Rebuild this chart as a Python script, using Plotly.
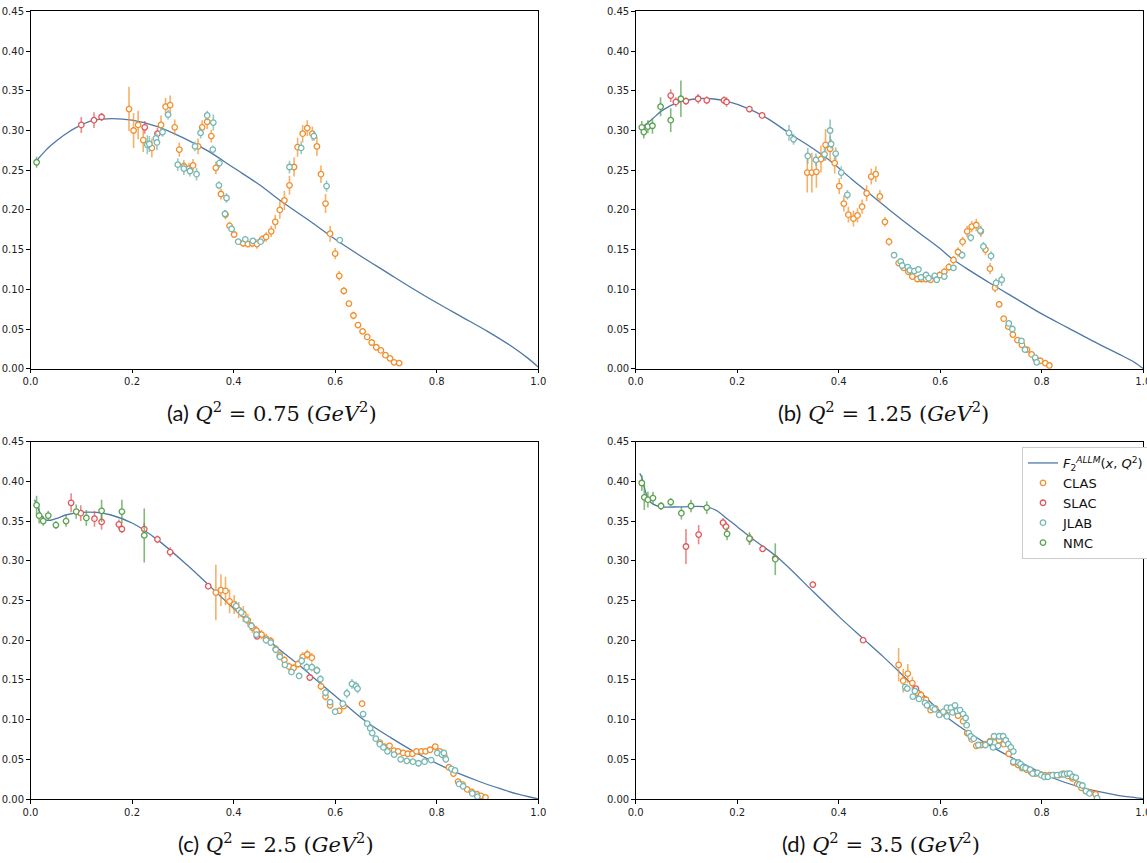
import plotly.graph_objects as go

# ---------------- ALLM model curves F2(x, Q^2) ----------------
A_CURVE_X = [0.01, 0.02, 0.03, 0.04, 0.055, 0.07, 0.10, 0.125, 0.16, 0.20, 0.25, 0.30, 0.35, 0.40, 0.45, 0.50,
             0.55, 0.60, 0.65, 0.70, 0.75, 0.80, 0.85, 0.90, 0.95, 0.98, 1.0]
A_CURVE_Y = [0.260, 0.268, 0.275, 0.281, 0.289, 0.296, 0.307, 0.313, 0.315, 0.313, 0.305, 0.291, 0.274, 0.253,
             0.232, 0.208, 0.186, 0.163, 0.142, 0.122, 0.102, 0.083, 0.065, 0.047, 0.027, 0.013, 0.002]

B_CURVE_X = [0.01, 0.03, 0.054, 0.087, 0.12, 0.15, 0.179, 0.224, 0.26, 0.304, 0.35, 0.383, 0.425, 0.45, 0.50,
             0.55, 0.60, 0.622, 0.65, 0.70, 0.75, 0.80, 0.85, 0.90, 0.95, 0.98, 1.0]
B_CURVE_Y = [0.303, 0.313, 0.326, 0.336, 0.340, 0.340, 0.337, 0.327, 0.315, 0.296, 0.277, 0.262, 0.239, 0.226,
             0.200, 0.175, 0.151, 0.139, 0.127, 0.107, 0.088, 0.069, 0.052, 0.035, 0.019, 0.009, 0.0]

C_CURVE_X = [0.008, 0.015, 0.022, 0.032, 0.05, 0.071, 0.10, 0.13, 0.157, 0.202, 0.249, 0.308, 0.35, 0.40, 0.45,
             0.485, 0.53, 0.57, 0.62, 0.662, 0.71, 0.76, 0.826, 0.88, 0.925, 0.96, 1.0]
C_CURVE_Y = [0.377, 0.366, 0.357, 0.351, 0.353, 0.358, 0.361, 0.361, 0.358, 0.347, 0.327, 0.295, 0.270, 0.240,
             0.212, 0.191, 0.168, 0.146, 0.119, 0.097, 0.077, 0.058, 0.037, 0.023, 0.013, 0.006, 0.0]

D_CURVE_X = [0.008, 0.012, 0.018, 0.025, 0.035, 0.05, 0.088, 0.14, 0.16, 0.18, 0.20, 0.225, 0.278, 0.35, 0.40,
             0.448, 0.488, 0.552, 0.619, 0.685, 0.75, 0.816, 0.881, 0.947, 0.993, 1.0]
D_CURVE_Y = [0.410, 0.405, 0.390, 0.377, 0.371, 0.368, 0.368, 0.368, 0.363, 0.353, 0.343, 0.330, 0.305, 0.261,
             0.230, 0.202, 0.179, 0.140, 0.100, 0.072, 0.049, 0.028, 0.014, 0.005, 0.001, 0.0]

# ---------------- Panel (a): Q^2 = 0.75 GeV^2 ----------------
A_CLAS_X = [0.194, 0.203, 0.212, 0.222, 0.239, 0.257, 0.266, 0.275, 0.284, 0.293, 0.302, 0.312, 0.320, 0.330,
            0.338, 0.348, 0.356, 0.365, 0.375, 0.384, 0.392, 0.401, 0.419, 0.428, 0.437, 0.446, 0.456, 0.464,
            0.474, 0.482, 0.491, 0.500, 0.510, 0.519, 0.526, 0.536, 0.545, 0.555, 0.564, 0.572, 0.581, 0.590,
            0.600, 0.608, 0.617, 0.627, 0.636, 0.645, 0.654, 0.663, 0.672, 0.681, 0.690, 0.699, 0.708, 0.716,
            0.726]
A_CLAS_Y = [0.327, 0.300, 0.307, 0.288, 0.278, 0.307, 0.330, 0.332, 0.304, 0.276, 0.255, 0.252, 0.256, 0.280,
            0.304, 0.311, 0.293, 0.253, 0.220, 0.194, 0.180, 0.169, 0.158, 0.157, 0.158, 0.157, 0.163, 0.166,
            0.173, 0.185, 0.200, 0.212, 0.231, 0.254, 0.279, 0.296, 0.303, 0.296, 0.280, 0.245, 0.208, 0.170,
            0.145, 0.117, 0.098, 0.082, 0.067, 0.055, 0.047, 0.040, 0.033, 0.027, 0.023, 0.017, 0.013, 0.008,
            0.007]
A_CLAS_E = [0.028, 0.022, 0.018, 0.015, 0.012, 0.012, 0.011, 0.012, 0.010, 0.009, 0.008, 0.007, 0.008, 0.010,
            0.009, 0.009, 0.008, 0.008, 0.007, 0.006, 0.005, 0.004, 0.004, 0.004, 0.005, 0.006, 0.005, 0.006,
            0.007, 0.009, 0.011, 0.012, 0.012, 0.012, 0.012, 0.011, 0.010, 0.009, 0.012, 0.011, 0.012, 0.010,
            0.007, 0.006, 0.005, 0.003, 0.005, 0.002, 0.002, 0.002, 0.002, 0.002, 0.002, 0.002, 0.002, 0.002,
            0.002]
A_SLAC_X = [0.10, 0.125, 0.14, 0.225, 0.25]
A_SLAC_Y = [0.307, 0.313, 0.317, 0.304, 0.296]
A_SLAC_E = [0.010, 0.010, 0.005, 0.008, 0.007]
A_JLAB_X = [0.230, 0.234, 0.247, 0.249, 0.260, 0.271, 0.290, 0.302, 0.314, 0.324, 0.327, 0.335, 0.348, 0.359,
            0.360, 0.371, 0.372, 0.383, 0.386, 0.396, 0.409, 0.423, 0.438, 0.453, 0.510, 0.533, 0.558, 0.583,
            0.609]
A_JLAB_Y = [0.282, 0.283, 0.290, 0.285, 0.298, 0.320, 0.257, 0.252, 0.249, 0.280, 0.245, 0.297, 0.319, 0.276,
            0.310, 0.231, 0.259, 0.195, 0.215, 0.176, 0.160, 0.163, 0.161, 0.160, 0.254, 0.278, 0.293, 0.230,
            0.162]
A_JLAB_E = [0.012, 0.010, 0.008, 0.010, 0.006, 0.006, 0.008, 0.008, 0.007, 0.006, 0.008, 0.007, 0.006, 0.005,
            0.010, 0.005, 0.006, 0.005, 0.006, 0.004, 0.003, 0.003, 0.003, 0.003, 0.008, 0.008, 0.006, 0.007,
            0.004]
A_NMC_X = [0.012]
A_NMC_Y = [0.260]
A_NMC_E = [0.007]

# ---------------- Panel (b): Q^2 = 1.25 GeV^2 ----------------
B_CLAS_X = [0.338, 0.347, 0.356, 0.365, 0.374, 0.383, 0.392, 0.401, 0.410, 0.419, 0.429, 0.437, 0.446, 0.455,
            0.464, 0.473, 0.481, 0.491, 0.499, 0.518, 0.528, 0.537, 0.545, 0.555, 0.563, 0.572, 0.581, 0.590,
            0.599, 0.608, 0.617, 0.626, 0.635, 0.644, 0.653, 0.662, 0.671, 0.680, 0.689, 0.698, 0.708, 0.716,
            0.725, 0.734, 0.743, 0.752, 0.761, 0.771, 0.780, 0.788, 0.797, 0.807, 0.815]
B_CLAS_Y = [0.247, 0.247, 0.248, 0.264, 0.282, 0.277, 0.259, 0.230, 0.208, 0.194, 0.189, 0.193, 0.204, 0.221,
            0.242, 0.245, 0.217, 0.185, 0.160, 0.133, 0.127, 0.122, 0.116, 0.113, 0.113, 0.113, 0.112, 0.116,
            0.118, 0.122, 0.128, 0.137, 0.147, 0.160, 0.173, 0.179, 0.181, 0.173, 0.150, 0.126, 0.102, 0.081,
            0.063, 0.053, 0.043, 0.036, 0.030, 0.024, 0.018, 0.012, 0.010, 0.007, 0.004]
B_CLAS_E = [0.025, 0.025, 0.020, 0.017, 0.020, 0.016, 0.013, 0.010, 0.010, 0.010, 0.010, 0.009, 0.009, 0.010,
            0.010, 0.010, 0.008, 0.006, 0.005, 0.004, 0.004, 0.004, 0.004, 0.004, 0.004, 0.004, 0.004, 0.004,
            0.004, 0.005, 0.005, 0.005, 0.006, 0.006, 0.007, 0.007, 0.008, 0.007, 0.007, 0.007, 0.006, 0.004,
            0.003, 0.003, 0.002, 0.002, 0.002, 0.002, 0.002, 0.002, 0.002, 0.002, 0.002]
B_SLAC_X = [0.069, 0.079, 0.099, 0.123, 0.140, 0.174, 0.179, 0.224, 0.249]
B_SLAC_Y = [0.344, 0.336, 0.337, 0.340, 0.338, 0.338, 0.336, 0.327, 0.319]
B_SLAC_E = [0.008, 0.006, 0.005, 0.006, 0.005, 0.005, 0.006, 0.004, 0.004]
B_JLAB_X = [0.302, 0.311, 0.339, 0.355, 0.372, 0.383, 0.385, 0.394, 0.405, 0.417, 0.509, 0.522, 0.525, 0.536,
            0.540, 0.549, 0.557, 0.562, 0.572, 0.577, 0.589, 0.593, 0.608, 0.626, 0.643, 0.660, 0.679, 0.685,
            0.700, 0.710, 0.721, 0.735, 0.742, 0.760, 0.767, 0.787, 0.790]
B_JLAB_Y = [0.297, 0.289, 0.268, 0.263, 0.270, 0.300, 0.283, 0.271, 0.247, 0.219, 0.143, 0.135, 0.130, 0.128,
            0.124, 0.123, 0.125, 0.115, 0.118, 0.114, 0.117, 0.112, 0.116, 0.127, 0.143, 0.165, 0.174, 0.154,
            0.142, 0.108, 0.112, 0.057, 0.050, 0.035, 0.024, 0.014, 0.008]
B_JLAB_E = [0.010, 0.007, 0.010, 0.008, 0.008, 0.014, 0.006, 0.008, 0.008, 0.006, 0.004, 0.004, 0.004, 0.004,
            0.004, 0.004, 0.004, 0.004, 0.004, 0.004, 0.004, 0.004, 0.004, 0.004, 0.005, 0.005, 0.006, 0.006,
            0.006, 0.006, 0.008, 0.003, 0.003, 0.003, 0.003, 0.003, 0.003]
B_NMC_X = [0.012, 0.016, 0.024, 0.033, 0.049, 0.069, 0.089]
B_NMC_Y = [0.304, 0.298, 0.305, 0.306, 0.330, 0.313, 0.340]
B_NMC_E = [0.008, 0.008, 0.008, 0.010, 0.012, 0.015, 0.023]

# ---------------- Panel (c): Q^2 = 2.5 GeV^2 ----------------
C_CLAS_X = [0.365, 0.375, 0.384, 0.392, 0.401, 0.410, 0.419, 0.428, 0.437, 0.445, 0.455, 0.464, 0.473, 0.483,
            0.491, 0.500, 0.509, 0.518, 0.527, 0.536, 0.545, 0.554, 0.564, 0.572, 0.581, 0.590, 0.608, 0.617,
            0.653, 0.688, 0.697, 0.707, 0.716, 0.724, 0.734, 0.743, 0.752, 0.760, 0.770, 0.778, 0.787, 0.797,
            0.806, 0.815, 0.824, 0.833, 0.842, 0.851, 0.860, 0.869, 0.879, 0.887, 0.896]
C_CLAS_Y = [0.260, 0.263, 0.262, 0.249, 0.245, 0.238, 0.233, 0.225, 0.216, 0.212, 0.207, 0.202, 0.199, 0.189,
            0.181, 0.175, 0.167, 0.165, 0.170, 0.179, 0.182, 0.178, 0.162, 0.142, 0.129, 0.118, 0.111, 0.117,
            0.120, 0.071, 0.066, 0.067, 0.061, 0.060, 0.058, 0.057, 0.057, 0.060, 0.060, 0.060, 0.062, 0.066,
            0.060, 0.054, 0.040, 0.032, 0.022, 0.018, 0.012, 0.009, 0.006, 0.004, 0.002]
C_CLAS_E = [0.035, 0.020, 0.018, 0.015, 0.012, 0.010, 0.010, 0.008, 0.007, 0.006, 0.006, 0.006, 0.005, 0.005,
            0.005, 0.005, 0.005, 0.005, 0.005, 0.006, 0.006, 0.006, 0.005, 0.005, 0.005, 0.004, 0.004, 0.004,
            0.004, 0.003, 0.003, 0.003, 0.003, 0.003, 0.003, 0.003, 0.003, 0.003, 0.003, 0.003, 0.003, 0.003,
            0.003, 0.003, 0.003, 0.003, 0.003, 0.002, 0.002, 0.002, 0.002, 0.002, 0.002]
C_SLAC_X = [0.080, 0.099, 0.126, 0.140, 0.174, 0.180, 0.224, 0.250, 0.275, 0.350, 0.446, 0.550]
C_SLAC_Y = [0.373, 0.360, 0.353, 0.349, 0.346, 0.340, 0.340, 0.327, 0.311, 0.268, 0.205, 0.153]
C_SLAC_E = [0.012, 0.010, 0.010, 0.010, 0.006, 0.005, 0.008, 0.005, 0.006, 0.004, 0.003, 0.002]
C_JLAB_X = [0.405, 0.415, 0.425, 0.435, 0.445, 0.464, 0.473, 0.483, 0.491, 0.501, 0.514, 0.529, 0.534, 0.544,
            0.554, 0.564, 0.571, 0.581, 0.590, 0.600, 0.615, 0.623, 0.633, 0.641, 0.644, 0.655, 0.663, 0.669,
            0.673, 0.680, 0.688, 0.695, 0.703, 0.716, 0.729, 0.741, 0.753, 0.764, 0.776, 0.789, 0.801, 0.810,
            0.814, 0.818, 0.829, 0.836, 0.844, 0.852, 0.870, 0.880]
C_JLAB_Y = [0.243, 0.235, 0.226, 0.218, 0.207, 0.200, 0.197, 0.188, 0.179, 0.169, 0.160, 0.155, 0.174, 0.166,
            0.166, 0.162, 0.151, 0.134, 0.122, 0.110, 0.120, 0.133, 0.145, 0.142, 0.139, 0.107, 0.095, 0.089,
            0.083, 0.076, 0.069, 0.065, 0.060, 0.056, 0.050, 0.048, 0.047, 0.045, 0.047, 0.049, 0.058, 0.056,
            0.058, 0.050, 0.038, 0.036, 0.019, 0.016, 0.007, 0.003]
C_JLAB_E = [0.006, 0.006, 0.005, 0.005, 0.004, 0.004, 0.004, 0.004, 0.004, 0.004, 0.004, 0.004, 0.005, 0.005,
            0.005, 0.005, 0.005, 0.005, 0.004, 0.004, 0.004, 0.006, 0.006, 0.006, 0.006, 0.004, 0.003, 0.003,
            0.003, 0.003, 0.003, 0.003, 0.003, 0.002, 0.002, 0.002, 0.002, 0.002, 0.002, 0.002, 0.004, 0.004,
            0.004, 0.004, 0.003, 0.003, 0.002, 0.002, 0.002, 0.002]
C_NMC_X = [0.012, 0.017, 0.025, 0.035, 0.050, 0.070, 0.090, 0.110, 0.140, 0.180, 0.224]
C_NMC_Y = [0.370, 0.357, 0.350, 0.357, 0.345, 0.350, 0.362, 0.354, 0.363, 0.362, 0.332]
C_NMC_E = [0.012, 0.010, 0.006, 0.006, 0.005, 0.007, 0.009, 0.010, 0.014, 0.015, 0.034]

# ---------------- Panel (d): Q^2 = 3.5 GeV^2 ----------------
D_CLAS_X = [0.518, 0.527, 0.536, 0.545, 0.554, 0.562, 0.572, 0.581, 0.590, 0.599, 0.608, 0.617, 0.626, 0.635,
            0.645, 0.653, 0.662, 0.671, 0.680, 0.689, 0.698, 0.707, 0.716, 0.725, 0.735, 0.744, 0.753, 0.761,
            0.770, 0.779, 0.788, 0.798, 0.806, 0.815, 0.824, 0.834, 0.842, 0.851, 0.860, 0.870, 0.878, 0.887,
            0.896, 0.906]
D_CLAS_Y = [0.169, 0.149, 0.158, 0.146, 0.134, 0.131, 0.125, 0.112, 0.114, 0.107, 0.108, 0.112, 0.111, 0.105,
            0.098, 0.083, 0.075, 0.067, 0.068, 0.069, 0.073, 0.078, 0.074, 0.069, 0.057, 0.046, 0.043, 0.039,
            0.037, 0.034, 0.032, 0.031, 0.030, 0.030, 0.030, 0.030, 0.032, 0.029, 0.026, 0.019, 0.014, 0.010,
            0.008, 0.006]
D_CLAS_E = [0.021, 0.015, 0.012, 0.008, 0.006, 0.005, 0.005, 0.004, 0.004, 0.004, 0.004, 0.004, 0.004, 0.004,
            0.004, 0.003, 0.003, 0.003, 0.003, 0.003, 0.003, 0.003, 0.003, 0.003, 0.003, 0.002, 0.002, 0.002,
            0.002, 0.002, 0.002, 0.002, 0.002, 0.002, 0.002, 0.002, 0.002, 0.002, 0.002, 0.002, 0.002, 0.002,
            0.002, 0.002]
D_SLAC_X = [0.099, 0.124, 0.172, 0.178, 0.225, 0.250, 0.275, 0.349, 0.448, 0.552]
D_SLAC_Y = [0.318, 0.333, 0.348, 0.343, 0.328, 0.315, 0.303, 0.270, 0.200, 0.139]
D_SLAC_E = [0.022, 0.012, 0.006, 0.006, 0.006, 0.004, 0.004, 0.004, 0.002, 0.002]
D_JLAB_X = [0.531, 0.535, 0.546, 0.550, 0.558, 0.570, 0.574, 0.585, 0.589, 0.598, 0.606, 0.613, 0.613, 0.621,
            0.624, 0.629, 0.633, 0.639, 0.645, 0.650, 0.652, 0.656, 0.660, 0.666, 0.675, 0.689, 0.698, 0.704,
            0.706, 0.714, 0.716, 0.724, 0.729, 0.734, 0.739, 0.744, 0.744, 0.754, 0.758, 0.763, 0.768, 0.777,
            0.782, 0.792, 0.799, 0.805, 0.812, 0.821, 0.830, 0.839, 0.844, 0.850, 0.855, 0.861, 0.867, 0.874,
            0.880, 0.887, 0.894, 0.909]
D_JLAB_Y = [0.141, 0.139, 0.129, 0.136, 0.126, 0.121, 0.118, 0.115, 0.113, 0.106, 0.110, 0.115, 0.104, 0.115,
            0.109, 0.118, 0.111, 0.112, 0.107, 0.102, 0.093, 0.083, 0.079, 0.076, 0.068, 0.068, 0.072, 0.065,
            0.079, 0.067, 0.079, 0.079, 0.074, 0.069, 0.065, 0.060, 0.047, 0.046, 0.044, 0.040, 0.039, 0.037,
            0.032, 0.033, 0.030, 0.028, 0.028, 0.030, 0.030, 0.031, 0.031, 0.032, 0.032, 0.028, 0.027, 0.018,
            0.017, 0.010, 0.007, 0.001]
D_JLAB_E = [0.003] * len(D_JLAB_X)
D_NMC_X = [0.012, 0.017, 0.024, 0.034, 0.050, 0.069, 0.090, 0.109, 0.140, 0.180, 0.224, 0.275]
D_NMC_Y = [0.398, 0.380, 0.377, 0.379, 0.369, 0.374, 0.360, 0.369, 0.367, 0.334, 0.328, 0.302]
D_NMC_E = [0.010, 0.016, 0.010, 0.008, 0.005, 0.005, 0.008, 0.008, 0.008, 0.008, 0.008, 0.020]

PANEL_CAPTIONS = ["(a)", "(b)", "(c)", "(d)"]
PANEL_Q2 = ["0.75", "1.25", "2.5", "3.5"]
X_TICKS = [0.0, 0.2, 0.4, 0.6, 0.8, 1.0]
Y_TICKS = [0.0, 0.05, 0.10, 0.15, 0.20, 0.25, 0.30, 0.35, 0.40, 0.45]

# ---------------- styling ----------------
W, H = 1147, 863
CURVE_COLOR = "#4e79a7"
SERIES = {
    "CLAS": ("#f28e2b", "rgba(242,142,43,0.7)"),
    "SLAC": ("#e15759", "rgba(225,87,89,0.7)"),
    "JLAB": ("#76b7b2", "rgba(118,183,178,0.75)"),
    "NMC": ("#59a14f", "rgba(89,161,79,0.75)"),
}

# plot-area boxes in pixels: (left, right, top, bottom)
BOXES = [(30.5, 538.3, 11.4, 368.7), (635.7, 1143.3, 11.4, 368.7),
         (30.5, 538.3, 441.7, 799.0), (635.7, 1143.3, 441.7, 799.0)]
CAPTION_POS = [(272, 412), (883, 412), (276, 843), (881, 843)]

panels = [
    (A_CURVE_X, A_CURVE_Y, [(A_CLAS_X, A_CLAS_Y, A_CLAS_E), (A_SLAC_X, A_SLAC_Y, A_SLAC_E),
                            (A_JLAB_X, A_JLAB_Y, A_JLAB_E), (A_NMC_X, A_NMC_Y, A_NMC_E)]),
    (B_CURVE_X, B_CURVE_Y, [(B_CLAS_X, B_CLAS_Y, B_CLAS_E), (B_SLAC_X, B_SLAC_Y, B_SLAC_E),
                            (B_JLAB_X, B_JLAB_Y, B_JLAB_E), (B_NMC_X, B_NMC_Y, B_NMC_E)]),
    (C_CURVE_X, C_CURVE_Y, [(C_CLAS_X, C_CLAS_Y, C_CLAS_E), (C_SLAC_X, C_SLAC_Y, C_SLAC_E),
                            (C_JLAB_X, C_JLAB_Y, C_JLAB_E), (C_NMC_X, C_NMC_Y, C_NMC_E)]),
    (D_CURVE_X, D_CURVE_Y, [(D_CLAS_X, D_CLAS_Y, D_CLAS_E), (D_SLAC_X, D_SLAC_Y, D_SLAC_E),
                            (D_JLAB_X, D_JLAB_Y, D_JLAB_E), (D_NMC_X, D_NMC_Y, D_NMC_E)]),
]

fig = go.Figure()
layout = {}
annotations = []
SERIF = "DejaVu Serif"

for i, (cx, cy, datasets) in enumerate(panels):
    n = "" if i == 0 else str(i + 1)
    xa, ya = "x" + n, "y" + n
    show = i == 3
    fig.add_trace(go.Scatter(
        x=cx, y=cy, xaxis=xa, yaxis=ya, mode="lines", line=dict(color=CURVE_COLOR, width=1.3, shape="spline"),
        name="<i>F</i><sub>2</sub><sup><i>ALLM</i></sup>(<i>x</i>, <i>Q</i><sup>2</sup>)",
        showlegend=show, legendrank=1,
    ))
    for rank, (name, (xs, ys, es)) in enumerate(zip(SERIES.keys(), datasets)):
        col, ecol = SERIES[name]
        fig.add_trace(go.Scatter(
            x=xs, y=ys, xaxis=xa, yaxis=ya, mode="markers", name=name, showlegend=show, legendrank=rank + 2,
            marker=dict(symbol="circle", size=5.5, color="white", line=dict(color=col, width=1.3)),
            error_y=dict(type="data", array=es, visible=True, color=ecol, thickness=1.6, width=0),
        ))
    l, r, t, b = BOXES[i]
    axis_common = dict(showline=True, mirror=True, linecolor="#000", linewidth=1, showgrid=False,
                       zeroline=False, ticks="outside", ticklen=3.5, tickwidth=0.8, tickcolor="#000",
                       automargin=False, ticklabeloverflow="allow",
                       tickfont=dict(family="DejaVu Sans", size=10, color="#222"))
    layout["xaxis" + n] = dict(domain=[l / W, r / W], anchor=ya, range=[0, 1.0], tickvals=X_TICKS,
                               ticktext=[f"{v:.1f}" for v in X_TICKS], **axis_common)
    layout["yaxis" + n] = dict(domain=[1 - b / H, 1 - t / H], anchor=xa, range=[0, 0.45], tickvals=Y_TICKS,
                               ticktext=[f"{v:.2f}" for v in Y_TICKS], **axis_common)
    cxp, cyp = CAPTION_POS[i]
    annotations.append(dict(
        xref="paper", yref="paper", x=cxp / W, y=1 - cyp / H, xanchor="center", yanchor="middle",
        showarrow=False, font=dict(family=SERIF, size=21, color="#111"),
        text=(f"<span style='font-family:Lato;font-size:22px'>{PANEL_CAPTIONS[i]}</span> "
              f"<i>Q</i><sup>2</sup> = {PANEL_Q2[i]} (<i>GeV</i><sup>2</sup>)"),
    ))

fig.update_layout(
    width=W, height=H, margin=dict(l=0, r=0, t=0, b=0, autoexpand=False), paper_bgcolor="white",
    plot_bgcolor="white", annotations=annotations,
    legend=dict(x=1022 / W, y=1 - 447 / H, xanchor="left", yanchor="top", bgcolor="white",
                bordercolor="#cccccc", borderwidth=1, font=dict(family="DejaVu Sans", size=13, color="#111"),
                tracegroupgap=0, itemwidth=30),
    **layout,
)

fig.write_html("out.html")
